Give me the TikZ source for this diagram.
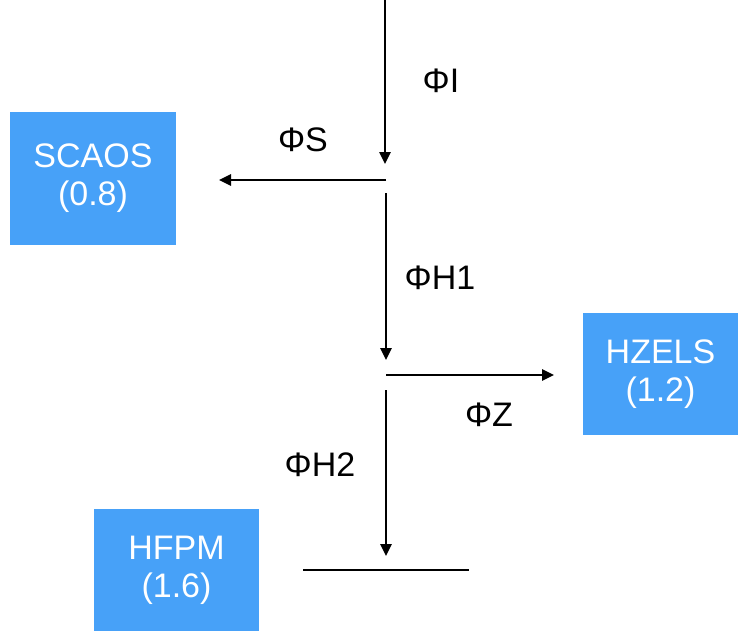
\documentclass[tikz,border=0pt]{standalone}
\usepackage{fontspec}
\setmainfont{Liberation Sans}
\usetikzlibrary{arrows.meta}
\definecolor{boxblue}{RGB}{71,161,248}
\begin{document}
\begin{tikzpicture}[x=1pt,y=-1pt,
  box/.style={fill=boxblue,draw=none,text=white,align=center,font=\fontsize{34}{38}\selectfont,inner sep=0pt},
  lbl/.style={font=\fontsize{34}{38}\selectfont,inner sep=0pt},
  flow/.style={line width=2.5pt,-{Triangle[length=12pt,width=11pt]}},
  plain/.style={line width=2.5pt}]
\useasboundingbox (0,0) rectangle (738,634);
\node[box,minimum width=166pt,minimum height=133pt] (scaos) at (93,178.5) {SCAOS\\(0.8)};
\node[box,minimum width=155pt,minimum height=122pt] (hzels) at (660.5,374) {HZELS\\(1.2)};
\node[box,minimum width=165pt,minimum height=122pt] (hfpm) at (176.5,570) {HFPM\\(1.6)};
\coordinate (top) at (385,0);
\coordinate (j1) at (385,164);
\coordinate (s0) at (386,180);
\coordinate (s1) at (219,180);
\coordinate (v1) at (386,193);
\coordinate (j2) at (386,360);
\coordinate (z0) at (386,375);
\coordinate (z1) at (554,375);
\coordinate (v2) at (386,390);
\coordinate (j3) at (386,556);
\coordinate (b0) at (303,570);
\coordinate (b1) at (469,570);
\draw[flow] (top) -- (j1);
\draw[flow] (s0) -- (s1);
\draw[flow] (v1) -- (j2);
\draw[flow] (z0) -- (z1);
\draw[flow] (v2) -- (j3);
\draw[plain] (b0) -- (b1);
\node[lbl] (phiI) at (441,81) {ΦI};
\node[lbl] (phiS) at (303,140) {ΦS};
\node[lbl] (phiH1) at (440,278) {ΦH1};
\node[lbl] (phiZ) at (489,415) {ΦZ};
\node[lbl] (phiH2) at (320,465) {ΦH2};
\end{tikzpicture}
\end{document}
